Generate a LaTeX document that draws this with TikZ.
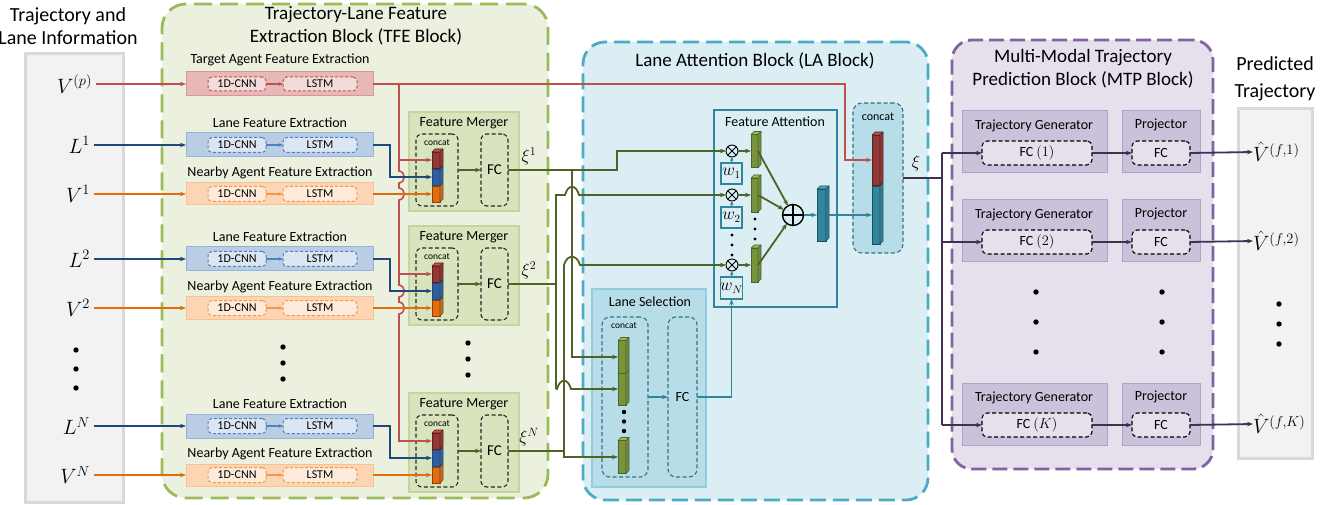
\documentclass[tikz,border=0pt]{standalone}
\usepackage{fontspec}
\setmainfont{Carlito}
\usetikzlibrary{arrows.meta}
\definecolor{tfeF}{HTML}{EBF1DE}\definecolor{tfeD}{HTML}{9BBB59}
\definecolor{fmF}{HTML}{D7E4BD}\definecolor{fmD}{HTML}{C3D69B}
\definecolor{laF}{HTML}{DBEEF4}\definecolor{laD}{HTML}{4BACC6}
\definecolor{lsF}{HTML}{B7DEE8}\definecolor{lsD}{HTML}{93CDDD}
\definecolor{mtpF}{HTML}{E5E0EC}\definecolor{mtpD}{HTML}{8064A2}
\definecolor{genF}{HTML}{CCC1DA}\definecolor{genD}{HTML}{B3A2C7}
\definecolor{grF}{HTML}{F2F2F2}\definecolor{grD}{HTML}{D9D9D9}
\definecolor{redL}{HTML}{C0504D}\definecolor{redF}{HTML}{E6B9B8}\definecolor{redB}{HTML}{D99694}\definecolor{redI}{HTML}{F2DCDB}\definecolor{redC}{HTML}{953735}
\definecolor{bluL}{HTML}{1F497D}\definecolor{bluF}{HTML}{B9CDE5}\definecolor{bluB}{HTML}{95B3D7}\definecolor{bluI}{HTML}{DCE6F2}\definecolor{bluM}{HTML}{4F81BD}\definecolor{bluC}{HTML}{2F5F9E}
\definecolor{orL}{HTML}{E46C0A}\definecolor{orF}{HTML}{FCD5B5}\definecolor{orB}{HTML}{FAC090}\definecolor{orI}{HTML}{FDEADA}\definecolor{orM}{HTML}{F79646}\definecolor{orC}{HTML}{E46C0A}
\definecolor{grnL}{HTML}{4F6228}\definecolor{grnC}{HTML}{77933C}\definecolor{grnS}{HTML}{9BBB59}
\definecolor{purL}{HTML}{403152}
\definecolor{tealC}{HTML}{31859C}\definecolor{tealS}{HTML}{4BACC6}\definecolor{tealD}{HTML}{3D6E80}
\tikzset{
  every node/.style={inner sep=0pt, outer sep=0pt},
  f20/.style={font=\fontsize{20}{22.5}\selectfont, align=center},
  f19/.style={font=\fontsize{19}{23}\selectfont, align=center},
  f15/.style={font=\fontsize{15}{17}\selectfont},
  f14/.style={font=\fontsize{14}{16}\selectfont},
  f12/.style={font=\fontsize{12}{14}\selectfont},
  f10/.style={font=\fontsize{9.5}{11}\selectfont},
  mth/.style={font=\fontsize{20}{22}\selectfont},
  xil/.style={font=\fontsize{18}{20}\selectfont},
  arr/.style={-{Stealth[length=6pt,width=4.5pt]}},
  sarr/.style={-{Stealth[length=4pt,width=3.5pt]}, line width=1.1pt},
  graybox/.style={fill=grF, draw=grD, line width=3pt},
  tfepanel/.style={fill=tfeF, draw=tfeD, line width=2.8pt, dash pattern=on 18pt off 8pt, rounded corners=24pt},
  lapanel/.style={fill=laF, draw=laD, line width=2.8pt, dash pattern=on 16pt off 7pt, rounded corners=22pt},
  mtppanel/.style={fill=mtpF, draw=mtpD, line width=2.8pt, dash pattern=on 15pt off 6pt, rounded corners=20pt},
  redbox/.style={fill=redF, draw=redB, line width=1pt},
  bluebox/.style={fill=bluF, draw=bluB, line width=1pt},
  orbox/.style={fill=orF, draw=orB, line width=1pt},
  inbox/.style={line width=1pt, dash pattern=on 3pt off 2pt, rounded corners=4pt, f12},
  redin/.style={inbox, fill=redI, draw=redL},
  bluin/.style={inbox, fill=bluI, draw=bluM},
  orin/.style={inbox, fill=orI, draw=orM},
  fmbox/.style={fill=fmF, draw=fmD, line width=1.2pt},
  dbox/.style={draw=black!85, line width=1.1pt, dash pattern=on 4pt off 2.5pt, rounded corners=6pt},
  lsbox/.style={fill=lsF, draw=lsD, line width=1.2pt},
  lsin/.style={draw=tealD, line width=1.1pt, dash pattern=on 4pt off 2.5pt, rounded corners=8pt},
  fabox/.style={draw=tealC, line width=1.5pt},
  wbox/.style={draw=tealC, line width=1.2pt, font=\fontsize{16}{18}\selectfont},
  lacbox/.style={fill=lsF, draw=tealD, line width=1.1pt, dash pattern=on 4pt off 2.5pt, rounded corners=9pt},
  genbox/.style={fill=genF, draw=genD, line width=1pt},
  fcbox/.style={fill=mtpF, draw=black, line width=1.1pt, dash pattern=on 4pt off 2.5pt, rounded corners=5pt, f14},
  redline/.style={draw=redL, line width=1.6pt},
  bluline/.style={draw=bluL, line width=1.8pt},
  orline/.style={draw=orL, line width=1.8pt},
  grnline/.style={draw=grnL, line width=1.8pt},
  tealline/.style={draw=tealC, line width=1.6pt},
  purline/.style={draw=purL, line width=1.8pt},
  otim/.style={circle, draw=black, line width=0.9pt, minimum size=12pt},
}
\newcommand\bx[7][]{\node[#1, minimum width={(#5)-(#3)}, minimum height={(#6)-(#4)}] (#2) at ({((#3)+(#5))/2},{((#4)+(#6))/2}) {#7};}
\newcommand\cubeat[8]{%
  \node[fill=#6, draw=#8, line width=0.6pt, minimum width={(#4)-(#2)}, minimum height={(#5)-(#3)}] (#1) at ({((#2)+(#4))/2},{((#3)+(#5))/2}) {};
  \filldraw[fill=#7, draw=#8, line width=0.6pt, line join=round] (#1.north west) -- ++(3,-3) -- ([shift={(3,-3)}]#1.north east) -- (#1.north east) -- cycle;
  \filldraw[fill=#7!75!black, draw=#8, line width=0.6pt, line join=round] (#1.north east) -- ++(3,-3) -- ([shift={(3,-3)}]#1.south east) -- (#1.south east) -- cycle;}
\newcommand\dotat[2]{\fill (#1,#2) circle (2.7);}
\begin{document}
\begin{tikzpicture}[x=1pt,y=-1pt]
\useasboundingbox (0,0) rectangle (1334,505);
% ---------- panels
\bx[graybox]{lp}{25}{54}{123}{502}{}
\bx[graybox]{rp}{1238}{109}{1312}{458}{}
\bx[tfepanel]{tfe}{162}{4}{548}{498}{}
\bx[lapanel]{la}{583}{42}{928}{500}{}
\bx[mtppanel]{mtp}{952}{40}{1213}{469}{}
\node[f20] (lpt) at (68,26) {Trajectory and\\Lane Information};
\node[font=\fontsize{20}{26.5}\selectfont, align=center] (rpt) at (1275,79) {Predicted\\Trajectory};
\node[f19] (tfet) at (356,26) {Trajectory-Lane Feature\\Extraction Block (TFE Block)};
\node[f19] (lat) at (755,61) {Lane Attention Block (LA Block)};
\node[f19] (mtpt) at (1083,69) {Multi-Modal Trajectory\\Prediction Block (MTP Block)};
% ---------- left inputs
\node[mth,anchor=east] (Vp) at (92,84) {$V^{(p)}$};
\dotat{76}{350}\dotat{76}{369}\dotat{76}{388}
% ---------- target agent
\node[f14] (tgtt) at (280,60) {Target Agent Feature Extraction};
\bx[redbox]{tgt}{186}{72}{373}{96}{}
\bx[redin]{tgc}{208}{77}{266}{91}{1D-CNN}
\bx[redin]{tgl}{283}{77}{357}{91}{LSTM}
\draw[sarr,draw=redL] (tgc.east) -- (tgl.west);
% ---------- TFE groups
\foreach \g/\o/\s in {1/0/1,2/114/2,3/281/N}{
  \node[f14] (lnt\g) at (280,123+\o) {Lane Feature Extraction};
  \bx[bluebox]{lane\g}{186}{133+\o}{373}{157+\o}{}
  \bx[bluin]{lnc\g}{208}{137.5+\o}{266}{152.5+\o}{1D-CNN}
  \bx[bluin]{lnl\g}{283}{137.5+\o}{357}{152.5+\o}{LSTM}
  \draw[sarr,draw=bluM] (lnc\g.east) -- (lnl\g.west);
  \node[f14] (nbt\g) at (280,173+\o) {Nearby Agent Feature Extraction};
  \bx[orbox]{near\g}{186}{183+\o}{373}{205+\o}{}
  \bx[orin]{nbc\g}{208}{186.5+\o}{266}{201.5+\o}{1D-CNN}
  \bx[orin]{nbl\g}{283}{186.5+\o}{357}{201.5+\o}{LSTM}
  \draw[sarr,draw=orM] (nbc\g.east) -- (nbl\g.west);
  \bx[fmbox]{fm\g}{409}{112+\o}{519}{211+\o}{}
  \node[f14] (fmt\g) at (464,123+\o) {Feature Merger};
  \bx[dbox]{cc\g}{416}{134+\o}{458}{206+\o}{}
  \node[f10] (cct\g) at (437,143+\o) {concat};
  \bx[dbox,f15]{fc\g}{481}{134+\o}{508}{206+\o}{FC}
  \cubeat{co\g}{432}{186+\o}{440}{202+\o}{orC}{orM}{orC!60!black}
  \cubeat{cb\g}{432}{169+\o}{440}{185+\o}{bluC}{bluM}{bluL}
  \cubeat{cr\g}{432}{152+\o}{440}{168+\o}{redC}{redL}{redC!60!black}
  \node[mth,anchor=east] (L\g) at (90,145+\o) {$L^{\s}$};
  \node[mth,anchor=east] (V\g) at (90,194+\o) {$V^{\s}$};
  \node[xil] (xi\g) at (529,156+\o) {$\xi^{\s}$};
}
\dotat{283}{347}\dotat{283}{363}\dotat{283}{379}
\dotat{468}{343}\dotat{468}{359}\dotat{468}{375}
% ---------- LA block content
\bx[fabox]{fa}{714}{110}{837}{307}{}
\node[f14] (fat) at (775,122) {Feature Attention};
\node[otim] (m1) at (732,151) {};
\node[otim] (m2) at (732,195) {};
\node[otim] (mN) at (732,265) {};
\foreach \m in {m1,m2,mN}{\draw[line width=0.9pt] (\m.north west) -- (\m.south east) (\m.north east) -- (\m.south west);}
\bx[wbox]{w1}{721}{163}{742}{184}{$w_1$}
\bx[wbox]{w2}{721}{207}{742}{228}{$w_2$}
\bx[wbox]{wN}{721}{277}{742}{299}{$w_N$}
\fill (732,235) circle (1.6); \fill (732,245) circle (1.6); \fill (732,255) circle (1.6);
\cubeat{b1}{751}{134.5}{758}{167.5}{grnC}{grnS}{grnL}
\cubeat{b2}{751}{178}{758}{212}{grnC}{grnS}{grnL}
\cubeat{b3}{751}{248}{758}{282}{grnC}{grnS}{grnL}
\fill (755,219) circle (1.6); \fill (755,229) circle (1.6); \fill (755,239) circle (1.6);
\node[circle, draw=black, line width=1.4pt, minimum size=21pt] (plus) at (793,215) {};
\draw[line width=1.4pt] (plus.north) -- (plus.south) (plus.west) -- (plus.east);
\cubeat{tb}{817}{189}{826}{241}{tealC}{tealS}{tealC!60!black}
\bx[lacbox]{lac}{853}{103}{903}{253}{}
\node[f12] (lact) at (878,117) {concat};
\cubeat{lcT}{872}{186}{880}{244}{tealC}{tealS}{tealC!60!black}
\cubeat{lcR}{872}{135}{880}{185}{redC}{redL}{redC!60!black}
\node[xil] (xio) at (916,163) {$\xi$};
% lane selection
\bx[lsbox]{ls}{592}{289}{706}{487}{}
\node[f14] (lst) at (650,302) {Lane Selection};
\bx[lsin]{lscc}{602}{317}{648}{477}{}
\node[f10] (lsct) at (624,326) {concat};
\bx[lsin,f14]{lsfc}{668}{317}{697}{477}{FC}
\cubeat{lc2}{618}{373}{626}{405}{grnC}{grnS}{grnL}
\cubeat{lc1}{618}{340.5}{626}{373.5}{grnC}{grnS}{grnL}
\cubeat{lcN}{618}{440.5}{626}{473.5}{grnC}{grnS}{grnL}
\fill (624,412) circle (2.2); \fill (624,421.5) circle (2.2); \fill (624,431) circle (2.2);
% ---------- MTP content
\foreach \k/\y/\t in {1/111/1,2/200/2,3/383/K}{
  \bx[genbox]{gen\k}{962}{\y}{1107}{\y+62}{}
  \node[f14] (gent\k) at (1034,\y+15) {Trajectory Generator};
  \bx[fcbox]{gfc\k}{982}{\y+30}{1092}{\y+54}{FC $(\t)$}
  \bx[genbox]{prj\k}{1122}{\y}{1200}{\y+62}{}
  \node[f14] (prjt\k) at (1161,\y+14) {Projector};
  \bx[fcbox]{pfc\k}{1132}{\y+30}{1190}{\y+54}{FC}
}
\node[mth,anchor=west] (vh1) at (1253,152) {$\hat{V}^{(f,1)}$};
\node[mth,anchor=west] (vh2) at (1253,241) {$\hat{V}^{(f,2)}$};
\node[mth,anchor=west] (vh3) at (1253,424) {$\hat{V}^{(f,K)}$};
\dotat{1036}{292}\dotat{1036}{322}\dotat{1036}{352}
\dotat{1162}{292}\dotat{1162}{322}\dotat{1162}{352}
\dotat{1279}{304}\dotat{1279}{324}\dotat{1279}{344}
% ---------- connectors
\coordinate (rvtop) at (399,84);
\coordinate (rk) at (845,84);
\coordinate (busx) at (942,0);
\draw[redline,arr] ([xshift=4pt]Vp.east) -- (tgt.west);
\draw[redline,arr] (tgt.east) -- (rk) |- (lcR.west);
\draw[redline] (rvtop) -- (399,171) .. controls (406,172) and (406,182) .. (399,183) -- (399,188) .. controls (406,189) and (406,199) .. (399,200) -- (399,285) .. controls (406,286) and (406,296) .. (399,297) -- (399,302) .. controls (406,303) and (406,313) .. (399,314) -- (399,442);
\foreach \g in {1,2,3}{
  \draw[bluline,arr] ([xshift=4pt]L\g.east) -- (lane\g.west);
  \draw[orline,arr] ([xshift=4pt]V\g.east) -- (near\g.west);
  \draw[bluline,arr] (lane\g.east) -- ++(17,0) |- (cb\g.west);
  \draw[orline,arr] (near\g.east) -- (co\g.west);
  \draw[redline,arr] (cr\g.west -| rvtop) -- (cr\g.west);
  \draw[grnline,arr] (cc\g.east) -- (fc\g.west);
}
% green routing
\draw[grnline,arr] (fc1.east) -- (617,170) -- (617,151) -- (m1.west);
\draw[grnline,arr] (572,170) -- (572,357) -- (lc1.west);
\draw[grnline] (fc2.east) -- (556,284);
\draw[grnline,arr] (556,389) -- (556,195) -- (565,195) .. controls (568,184) and (576,184) .. (579,195) -- (m2.west);
\draw[grnline,arr] (556,389) -- (557,389) .. controls (560,378) and (568,378) .. (571,389) -- (lc2.west);
\draw[grnline,arr] (fc3.east) -- (564,451) -- (564,457) -- (lcN.west);
\draw[grnline,arr] (564,457) -- (564,265) .. controls (567,254) and (577,254) .. (580,265) -- (mN.west);
% attention
\draw[grnline,arr] (m1.east) -- (b1.west);
\draw[grnline,arr] (m2.east) -- (b2.west);
\draw[grnline,arr] (mN.east) -- (b3.west);
\draw[tealline,sarr] (w1.north) -- (m1.south);
\draw[tealline,sarr] (w2.north) -- (m2.south);
\draw[tealline,sarr] (wN.north) -- (mN.south);
\draw[grnline,arr] (b1.east) -- (plus);
\draw[grnline,arr] (b2.east) -- (plus);
\draw[grnline,arr] (b3.east) -- (plus);
\draw[tealline,arr] (plus) -- (tb.west);
\draw[tealline,arr] ([xshift=3pt]tb.east) -- (lcT.west);
\draw[tealline,arr] (lscc.east) -- (lsfc.west);
\draw[tealline,arr] (lsfc.east) -| (wN.south);
% MTP
\draw[purline] (lac.east) -- (942,178);
\draw[purline] (942,153) -- (942,425);
\foreach \k in {1,2,3}{
  \draw[purline,arr] (gfc\k.west -| busx) -- (gfc\k.west);
  \draw[purline,arr] (gfc\k.east) -- (pfc\k.west);
  \draw[purline,arr] (pfc\k.east) -- (vh\k.west);
}
\end{tikzpicture}
\end{document}
